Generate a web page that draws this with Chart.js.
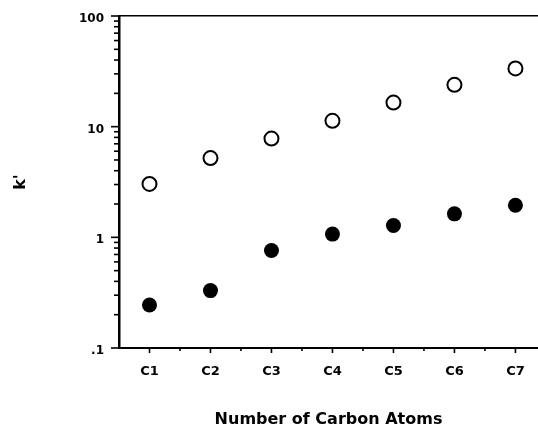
<!DOCTYPE html>
<html>
<head>
<meta charset="utf-8">
<script src="https://cdn.jsdelivr.net/npm/chart.js@4/dist/chart.umd.min.js"></script>
<style>
  html, body { margin: 0; padding: 0; background: #fff; }
  #wrap { width: 538px; height: 427px; position: relative; }
</style>
</head>
<body>
<div id="wrap"><canvas id="c"></canvas></div>
<script>
// ---- data ----
const categories = ['C1', 'C2', 'C3', 'C4', 'C5', 'C6', 'C7'];
const openSeries = [3.04, 5.2, 7.8, 11.3, 16.5, 23.9, 33.6];
const filledSeries = [0.245, 0.33, 0.76, 1.07, 1.28, 1.63, 1.95];
const yTickValues = [0.1, 1, 10, 100];
const yTickLabels = ['.1', '1', '10', '100'];
const xTitle = 'Number of Carbon Atoms';
const yTitle = "k'";

const toPoints = arr => arr.map((v, i) => ({ x: i + 1, y: v }));

const FONT = 'DejaVu Sans';

const tickPlugin = {
  id: 'minorTicks',
  afterDraw(chart) {
    const ctx = chart.ctx;
    const xs = chart.scales.x, ys = chart.scales.y;
    ctx.save();
    ctx.strokeStyle = '#000';
    ctx.lineWidth = 1.6;
    ys.ticks.forEach(t => {
      const py = ys.getPixelForValue(t.value);
      const major = yTickValues.some(d => Math.abs(d - t.value) / d < 1e-6);
      const len = major ? 8 : 5;
      ctx.beginPath();
      ctx.moveTo(ys.right - len, py);
      ctx.lineTo(ys.right, py);
      ctx.stroke();
    });
    for (let i = 0; i < categories.length; i++) {
      [i + 1, i + 1.5].forEach((v, k) => {
        const px = xs.getPixelForValue(v);
        if (px > xs.right) return;
        const len = k === 0 ? 5 : 3;
        ctx.beginPath();
        ctx.moveTo(px, xs.top);
        ctx.lineTo(px, xs.top + len);
        ctx.stroke();
      });
    }
    ctx.restore();
  }
};

new Chart(document.getElementById('c'), {
  type: 'scatter',
  data: {
    datasets: [
      {
        label: 'open',
        data: toPoints(openSeries),
        pointRadius: 7,
        pointHoverRadius: 7,
        pointBorderWidth: 2,
        pointBackgroundColor: '#fff',
        pointBorderColor: '#000'
      },
      {
        label: 'filled',
        data: toPoints(filledSeries),
        pointRadius: 7.5,
        pointHoverRadius: 7.5,
        pointBorderWidth: 0,
        pointBackgroundColor: '#000',
        pointBorderColor: '#000'
      }
    ]
  },
  options: {
    responsive: true,
    maintainAspectRatio: false,
    animation: false,
    layout: { padding: 0, autoPadding: false },
    plugins: { legend: { display: false }, tooltip: { enabled: false } },
    scales: {
      x: {
        type: 'linear',
        position: 'bottom',
        min: 0.5,
        max: 7.37,
        afterBuildTicks: s => { s.ticks = categories.map((c, i) => ({ value: i + 1 })); },
        afterFit: s => { s.height = 79; s.paddingLeft = 0; s.paddingRight = 0; },
        grid: { display: false, drawTicks: false },
        border: { display: true, color: '#000', width: 2 },
        ticks: {
          callback: v => categories[Math.round(v) - 1] ?? '',
          font: { family: FONT, weight: 'bold', size: 13 },
          color: '#000',
          padding: 16,
          autoSkip: false,
          maxRotation: 0
        },
        title: {
          display: true,
          text: xTitle,
          color: '#000',
          font: { family: FONT, weight: 'bold', size: 16 },
          padding: { top: 0, bottom: -2 }
        }
      },
      x2: {
        type: 'linear',
        position: 'top',
        min: 0.5,
        max: 7.37,
        afterFit: s => { s.height = 16; s.paddingLeft = 0; s.paddingRight = 0; },
        grid: { display: false, drawTicks: false },
        ticks: { display: false },
        border: { display: true, color: '#000', width: 1.5 }
      },
      y: {
        type: 'logarithmic',
        min: 0.1,
        max: 100,
        afterBuildTicks: s => {
          const t = [];
          yTickValues.forEach((d, i) => {
            if (i === yTickValues.length - 1) { t.push({ value: d }); return; }
            for (let m = 1; m <= 9; m++) t.push({ value: d * m });
          });
          s.ticks = t;
        },
        afterFit: s => { s.width = 119; s.paddingTop = 0; s.paddingBottom = 0; },
        grid: { display: false, drawTicks: false },
        border: { display: true, color: '#000', width: 2.5 },
        ticks: {
          callback: v => {
            const idx = yTickValues.findIndex(d => Math.abs(d - v) / d < 1e-6);
            return idx >= 0 ? yTickLabels[idx] : '';
          },
          font: { family: FONT, weight: 'bold', size: 12 },
          color: '#000',
          padding: 15,
          labelOffset: 3,
          autoSkip: false
        },
        title: {
          display: true,
          text: yTitle,
          color: '#000',
          font: { family: FONT, weight: 'bold', size: 16 },
          padding: { top: 11 }
        }
      }
    }
  },
  plugins: [tickPlugin]
});
</script>
</body>
</html>
